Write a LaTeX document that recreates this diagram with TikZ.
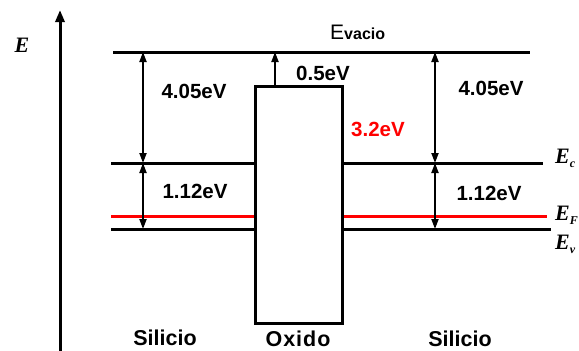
\documentclass[tikz,border=0pt]{standalone}
\usepackage{fontspec}
\setmainfont{Liberation Sans}
\newfontfamily\serifbf{Liberation Serif}
\usetikzlibrary{arrows.meta}
\begin{document}
\begin{tikzpicture}[x=1pt,y=-1pt,
  level/.style={line width=3pt},
  fermi/.style={line width=3pt, draw=red},
  gaparrow/.style={line width=2pt, {Triangle[width=7pt,length=10pt]}-{Triangle[width=7pt,length=10pt]}},
  uparrow/.style={line width=2pt, -{Triangle[width=7pt,length=10pt]}},
  val/.style={font=\bfseries\fontsize{20.5}{23}\selectfont, inner sep=0pt, anchor=base},
  region/.style={font=\bfseries\fontsize{21.5}{23}\selectfont, inner sep=0pt, anchor=base},
  elabel/.style={font=\serifbf\bfseries\itshape\fontsize{22}{24}\selectfont, inner sep=0pt, anchor=west}
]
\useasboundingbox (0,0) rectangle (579,351);
% energy axis
\coordinate (axb) at (60,351);
\coordinate (axt) at (60,10);
\draw[line width=3pt, -{Triangle[width=9pt,length=12pt]}] (axb) -- (axt);
\node[elabel, anchor=center] (eaxis) at (22,45) {E};
% levels
\coordinate (vacL) at (113,52);  \coordinate (vacR) at (530,52);
\coordinate (ecL1) at (111,163); \coordinate (ecL2) at (254,163);
\coordinate (ecR1) at (341,163); \coordinate (ecR2) at (543,163);
\coordinate (efL1) at (111,216); \coordinate (efL2) at (254,216);
\coordinate (efR1) at (341,216); \coordinate (efR2) at (547,216);
\coordinate (evL1) at (111,229); \coordinate (evL2) at (254,229);
\coordinate (evR1) at (341,229); \coordinate (evR2) at (551,229);
\draw[level] (vacL) -- (vacR);
\draw[level] (ecL1) -- (ecL2);
\draw[level] (ecR1) -- (ecR2);
\draw[fermi] (efL1) -- (efL2);
\draw[fermi] (efR1) -- (efR2);
\draw[level] (evL1) -- (evL2);
\draw[level] (evR1) -- (evR2);
% oxide box
\node[draw, line width=3pt, minimum width=87pt, minimum height=237pt, inner sep=0pt, anchor=north west] (ox) at (254,85) {};
% arrows
\coordinate (a1) at (143,52);  \coordinate (a2) at (143,163); \coordinate (a3) at (143,229);
\coordinate (b1) at (435,52);  \coordinate (b2) at (435,163); \coordinate (b3) at (435,229);
\coordinate (c1) at (275,85);  \coordinate (c2) at (275,52);
\draw[gaparrow] (a1) -- (a2);
\draw[gaparrow] (a2) -- (a3);
\draw[gaparrow] (b1) -- (b2);
\draw[gaparrow] (b2) -- (b3);
\draw[uparrow] (c1) -- (c2);
% labels
\node[inner sep=0pt, anchor=base west] (evac) at (330,39) {{\fontsize{21}{23}\selectfont E}{\bfseries\fontsize{16}{18}\selectfont vacio}};
\node[val] (l405) at (194,98) {4.05eV};
\node[val] (r405) at (491,95) {4.05eV};
\node[val] (v05) at (323,80) {0.5eV};
\node[val, text=red] (v32) at (378,136) {3.2eV};
\node[val] (l112) at (195,198) {1.12eV};
\node[val] (r112) at (489,200) {1.12eV};
\node[region] (sil1) at (165,345) {Silicio};
\node[region] (oxl) at (298,346) {O\kern1pt x\kern1pt i\kern1pt d\kern1pt o};
\node[region] (sil2) at (460,346) {Silicio};
\node[elabel] (ec) at (555,158) {E\raisebox{-4pt}{\fontsize{12}{12}\selectfont c}};
\node[elabel] (ef) at (555,215) {E\raisebox{-4pt}{\fontsize{12}{12}\selectfont F}};
\node[elabel] (ev) at (555,244) {E\raisebox{-4pt}{\fontsize{12}{12}\selectfont v}};
\end{tikzpicture}
\end{document}
